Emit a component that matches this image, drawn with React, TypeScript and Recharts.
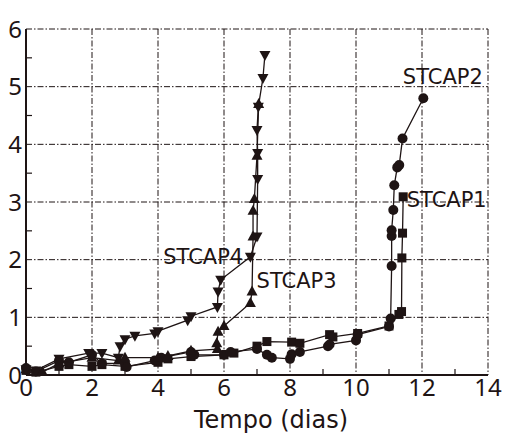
import React from "react";
import {
  ScatterChart,
  Scatter,
  XAxis,
  YAxis,
  CartesianGrid,
  Label,
} from "recharts";

// ---- data (x = tempo em dias, y = valor) ----
const STCAP1: [number, number][] = [
  [0, 0.08], [0.3, 0.05], [1.0, 0.15], [1.3, 0.18], [2.0, 0.15], [2.3, 0.18],
  [3.0, 0.15], [4.0, 0.22], [4.3, 0.28], [5.0, 0.32], [6.0, 0.35], [6.3, 0.38],
  [7.0, 0.5], [7.3, 0.58], [8.05, 0.57], [8.3, 0.55],
  [9.2, 0.7], [9.3, 0.66], [10.05, 0.72], [11.0, 0.85], [11.3, 1.05],
  [11.38, 1.1], [11.39, 2.03], [11.41, 2.46], [11.43, 3.09],
];
const STCAP2: [number, number][] = [
  [0, 0.12], [0.3, 0.06], [1.0, 0.25], [1.3, 0.22], [2.0, 0.35], [2.3, 0.2],
  [3.0, 0.2], [3.05, 0.14], [3.9, 0.25], [4.1, 0.3], [5.0, 0.4], [5.1, 0.35],
  [6.0, 0.35], [6.2, 0.4], [7.0, 0.45], [7.3, 0.35], [7.45, 0.3], [8.0, 0.28],
  [8.05, 0.36], [8.3, 0.4], [9.15, 0.5], [9.2, 0.53], [10.0, 0.6], [10.05, 0.7],
  [11.0, 0.84], [11.05, 0.98], [11.08, 1.89], [11.08, 2.41], [11.08, 2.51],
  [11.13, 2.86], [11.16, 3.29], [11.25, 3.6], [11.31, 3.64], [11.41, 4.1],
  [12.04, 4.8],
];
const STCAP3: [number, number][] = [
  [0, 0.1], [0.5, 0.05], [1.0, 0.2], [2.0, 0.3], [2.8, 0.25], [3.0, 0.3],
  [4.0, 0.3], [4.3, 0.33], [5.0, 0.42], [5.8, 0.45], [5.78, 0.55], [5.82, 0.75],
  [6.0, 0.85], [6.8, 1.25], [6.85, 1.45], [6.88, 2.4], [6.88, 2.85],
  [6.92, 3.05], [7.0, 3.8], [7.05, 4.7],
];
const STCAP4: [number, number][] = [
  [0, 0.1], [0.3, 0.08], [1.0, 0.28], [1.9, 0.38], [2.3, 0.38], [2.8, 0.3],
  [2.85, 0.5], [3.0, 0.62], [3.3, 0.68], [3.9, 0.72], [4.0, 0.76], [4.9, 0.95],
  [5.0, 1.02], [5.8, 1.18], [5.82, 1.45], [5.9, 1.65], [6.8, 2.05], [7.0, 2.4],
  [7.02, 3.4], [7.02, 3.85], [7.0, 4.25], [7.04, 4.65], [7.18, 5.15],
  [7.24, 5.55],
];
const SERIES_LABELS: { x: number; y: number; text: string }[] = [
  { x: 12.63, y: 5.18, text: "STCAP2" },
  { x: 12.75, y: 3.05, text: "STCAP1" },
  { x: 5.37, y: 2.06, text: "STCAP4" },
  { x: 8.2, y: 1.64, text: "STCAP3" },
];
const X_TICKS = [0, 1, 2, 3, 4, 5, 6, 7, 8, 9, 10, 11, 12, 13, 14];
const X_MAJOR = [0, 2, 4, 6, 8, 10, 12, 14];
const Y_TICKS = [0, 0.5, 1, 1.5, 2, 2.5, 3, 3.5, 4, 4.5, 5, 5.5, 6];
const Y_MAJOR = [0, 1, 2, 3, 4, 5, 6];
const X_MINOR = [1, 3, 5, 7, 9, 11, 13];
const Y_MINOR = [0.5, 1.5, 2.5, 3.5, 4.5, 5.5];

const toPts = (a: [number, number][]) => a.map(([x, y]) => ({ x, y }));

const INK = "#1e1414";
const FONT = "'Noto Sans', 'DejaVu Sans', sans-serif";
const FONT2 = "'DejaVu Sans', sans-serif";
const TICK_M = 4;

const XTick = (props: any) => {
  const { x, y, payload } = props;
  const v = payload.value;
  const axisY = y - TICK_M;
  const major = X_MAJOR.includes(v);
  return (
    <g>
      {!major && (
        <line x1={x} x2={x} y1={axisY} y2={axisY - 6} stroke={INK} strokeWidth={1.2} />
      )}
      {major && (
        <text x={x} y={y} dy="0.71em" textAnchor="middle" fontSize={24} fill={INK} fontFamily={FONT}>
          {v}
        </text>
      )}
    </g>
  );
};

const YTick = (props: any) => {
  const { x, y, payload } = props;
  const v = payload.value;
  const axisX = x + TICK_M;
  const major = Y_MAJOR.includes(v);
  return (
    <g>
      {!major && (
        <line x1={axisX} x2={axisX + 6} y1={y} y2={y} stroke={INK} strokeWidth={1.2} />
      )}
      {major && (
        <text x={x} y={y} dy="0.36em" textAnchor="end" fontSize={24} fill={INK} fontFamily={FONT}>
          {v}
        </text>
      )}
    </g>
  );
};

const Square = (p: any) => (
  <rect x={p.cx - 4.5} y={p.cy - 4.5} width={9} height={9} fill={INK} />
);
const Circle = (p: any) => <circle cx={p.cx} cy={p.cy} r={5} fill={INK} />;
const TriUp = (p: any) => (
  <polygon
    points={`${p.cx},${p.cy - 6} ${p.cx - 5.5},${p.cy + 4} ${p.cx + 5.5},${p.cy + 4}`}
    fill={INK}
  />
);
const TriDown = (p: any) => (
  <polygon
    points={`${p.cx},${p.cy + 6} ${p.cx - 5.5},${p.cy - 4} ${p.cx + 5.5},${p.cy - 4}`}
    fill={INK}
  />
);
const LabelShape = (p: any) => (
  <text
    x={p.cx}
    y={p.cy}
    dy="0.36em"
    textAnchor="middle"
    fontSize={21}
    fill={INK}
    fontFamily={FONT2}
  >
    {p.payload.text}
  </text>
);
const Empty = () => <g />;

const lineStyle = { stroke: INK, strokeWidth: 1.3 };

export default function App() {
  return (
    <div style={{ position: "absolute", left: 0, top: 0, background: "#fff" }}>
      <ScatterChart
        width={510}
        height={435}
        margin={{ top: 29, right: 22, bottom: 0, left: 0 }}
      >
        <CartesianGrid
          stroke={INK}
          strokeWidth={1}
          strokeDasharray="6 2 1.5 2"
          verticalValues={X_MAJOR}
          horizontalValues={Y_MAJOR}
        />
        <XAxis
          type="number"
          dataKey="x"
          domain={[0, 14]}
          ticks={X_TICKS}
          interval={0}
          height={60}
          tickSize={0}
          tickMargin={TICK_M}
          tickLine={false}
          axisLine={{ stroke: INK, strokeWidth: 2 }}
          tick={<XTick />}
        >
          <Label
            value="Tempo (dias)"
            position="insideBottom"
            offset={7}
            dx={14}
            fontSize={24}
            fill={INK}
            fontFamily={FONT2}
          />
        </XAxis>
        <YAxis
          type="number"
          dataKey="y"
          domain={[0, 6]}
          ticks={Y_TICKS}
          interval={0}
          width={26}
          tickSize={0}
          tickMargin={TICK_M}
          tickLine={false}
          axisLine={{ stroke: INK, strokeWidth: 2 }}
          tick={<YTick />}
        />
        <XAxis
          xAxisId="top"
          orientation="top"
          type="number"
          domain={[0, 14]}
          ticks={X_MINOR}
          interval={0}
          height={0}
          mirror
          tickSize={6}
          tick={<Empty />}
          tickLine={{ stroke: INK, strokeWidth: 1.2 }}
          axisLine={{ stroke: INK, strokeWidth: 2 }}
        />
        <YAxis
          yAxisId="right"
          orientation="right"
          type="number"
          domain={[0, 6]}
          ticks={Y_MINOR}
          interval={0}
          width={0}
          mirror
          tickSize={6}
          tick={<Empty />}
          tickLine={{ stroke: INK, strokeWidth: 1.2 }}
          axisLine={{ stroke: INK, strokeWidth: 2 }}
        />
        <Scatter data={toPts(STCAP1)} line={lineStyle} lineType="joint" shape={Square} isAnimationActive={false} />
        <Scatter data={toPts(STCAP2)} line={lineStyle} lineType="joint" shape={Circle} isAnimationActive={false} />
        <Scatter data={toPts(STCAP3)} line={lineStyle} lineType="joint" shape={TriUp} isAnimationActive={false} />
        <Scatter data={toPts(STCAP4)} line={lineStyle} lineType="joint" shape={TriDown} isAnimationActive={false} />
        <Scatter data={SERIES_LABELS} shape={LabelShape} isAnimationActive={false} />
      </ScatterChart>
    </div>
  );
}
